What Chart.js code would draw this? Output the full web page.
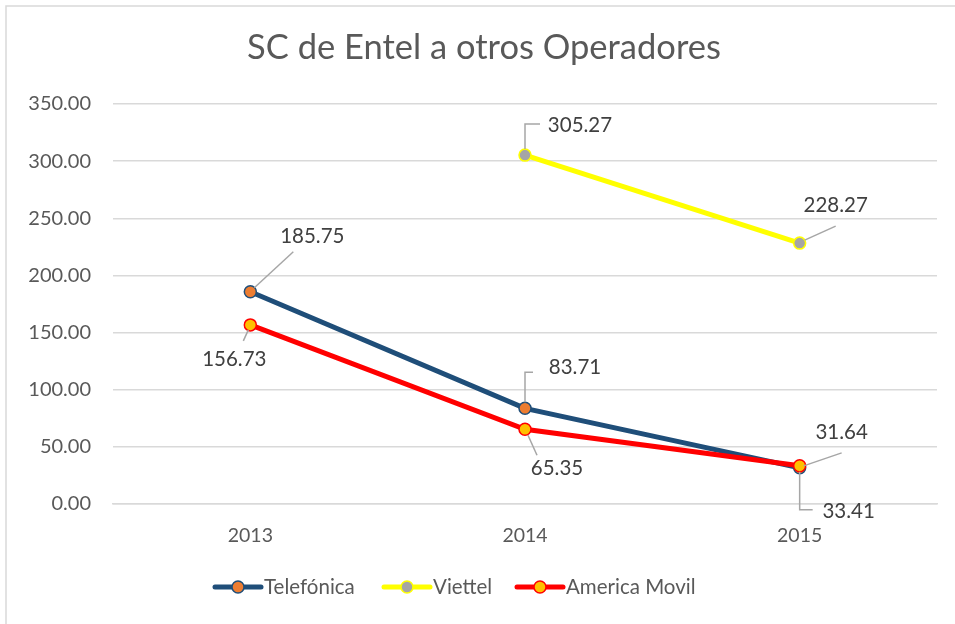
<!DOCTYPE html>
<html>
<head>
<meta charset="utf-8">
<style>
html,body{margin:0;padding:0;background:#fff;}
#wrap{position:relative;width:955px;height:624px;}
</style>
<script src="https://cdn.jsdelivr.net/npm/chart.js@4.4.1/dist/chart.umd.min.js"></script>
</head>
<body>
<div id="wrap"><canvas id="c" width="955" height="624"></canvas></div>
<script>
const categories = ['2013', '2014', '2015'];
const telefonica = [185.75, 83.71, 31.64];
const viettel = [null, 305.27, 228.27];
const americaMovil = [156.73, 65.35, 33.41];
const seriesNames = ['Telefónica', 'Viettel', 'America Movil'];
const chartTitle = 'SC de Entel a otros Operadores';

const FONT = 'Lato, "Open Sans", sans-serif';

// label placement (offsets relative to each point, in px)
const labelLayout = {
  0: [ {t:[62,-55], l:[[4,-4],[43,-40]]}, {t:[50,-41], l:[[0,-6],[0,-36],[8,-36]]}, {t:[42,-35], l:[[4,-2],[42,-15]]} ],
  1: [ null, {t:[55,-30], l:[[0,-6],[0,-31],[15,-31]]}, {t:[36,-38], l:[[5,-3],[36,-17]]} ],
  2: [ {t:[-16,35], l:[[-2,5],[-7,16]]}, {t:[32,39], l:[[3,6],[12,26]]}, {t:[49,46], l:[[0,6],[0,44],[13,44]]} ]
};

const frameAndExtras = {
  id: 'frameAndExtras',
  beforeDraw(chart) {
    const ctx = chart.ctx;
    ctx.save();
    ctx.fillStyle = '#fff';
    ctx.fillRect(0, 0, chart.width, chart.height);
    ctx.strokeStyle = '#d9d9d9';
    ctx.lineWidth = 1.5;
    ctx.beginPath();
    ctx.moveTo(6, chart.height + 2);
    ctx.lineTo(6, 6);
    ctx.lineTo(chart.width + 2, 6);
    ctx.stroke();
    // title
    ctx.fillStyle = '#595959';
    ctx.font = '34.5px ' + FONT;
    ctx.textAlign = 'center';
    ctx.textBaseline = 'middle';
    ctx.fillText(chartTitle, 484, 48);
    ctx.restore();
  },
  afterDatasetsDraw(chart) {
    const ctx = chart.ctx;
    ctx.save();
    chart.data.datasets.forEach((ds, di) => {
      const meta = chart.getDatasetMeta(di);
      meta.data.forEach((pt, i) => {
        const v = ds.data[i];
        const lay = labelLayout[di] && labelLayout[di][i];
        if (v === null || !lay) return;
        const x = pt.x, y = pt.y;
        ctx.strokeStyle = '#a6a6a6';
        ctx.lineWidth = 1.5;
        ctx.beginPath();
        lay.l.forEach((p, k) => {
          if (k === 0) ctx.moveTo(x + p[0], y + p[1]);
          else ctx.lineTo(x + p[0], y + p[1]);
        });
        ctx.stroke();
        ctx.fillStyle = '#404040';
        ctx.font = '20.5px ' + FONT;
        ctx.textAlign = 'center';
        ctx.textBaseline = 'middle';
        ctx.fillText(v.toFixed(2), x + lay.t[0], y + lay.t[1]);
      });
    });
    // legend
    const items = [
      {x: 215, text: seriesNames[0], ds: 0},
      {x: 384, text: seriesNames[1], ds: 1},
      {x: 517, text: seriesNames[2], ds: 2}
    ];
    const ly = 587;
    items.forEach(it => {
      const ds = chart.data.datasets[it.ds];
      ctx.strokeStyle = ds.borderColor;
      ctx.lineWidth = 5;
      ctx.lineCap = 'round';
      ctx.beginPath();
      ctx.moveTo(it.x, ly);
      ctx.lineTo(it.x + 46, ly);
      ctx.stroke();
      ctx.beginPath();
      ctx.arc(it.x + 23, ly, 6, 0, Math.PI * 2);
      ctx.fillStyle = ds.pointBackgroundColor;
      ctx.fill();
      ctx.lineWidth = 1.5;
      ctx.strokeStyle = ds.pointBorderColor;
      ctx.stroke();
      ctx.fillStyle = '#595959';
      ctx.font = '20.5px ' + FONT;
      ctx.textAlign = 'left';
      ctx.textBaseline = 'middle';
      ctx.fillText(it.text, it.x + 49, ly);
    });
    ctx.restore();
  }
};

new Chart(document.getElementById('c'), {
  type: 'line',
  data: {
    labels: categories,
    datasets: [
      { label: seriesNames[0], data: telefonica, borderColor: '#1f4e79', borderWidth: 5,
        pointBackgroundColor: '#ed7d31', pointBorderColor: '#1f4e79', pointBorderWidth: 1.5,
        pointRadius: 6, pointHoverRadius: 6, order: 3 },
      { label: seriesNames[1], data: viettel, borderColor: '#ffff00', borderWidth: 5,
        pointBackgroundColor: '#a5a5a5', pointBorderColor: '#ffff00', pointBorderWidth: 1.5,
        pointRadius: 6, pointHoverRadius: 6, order: 2 },
      { label: seriesNames[2], data: americaMovil, borderColor: '#ff0000', borderWidth: 5,
        pointBackgroundColor: '#ffc000', pointBorderColor: '#ff0000', pointBorderWidth: 1.5,
        pointRadius: 6, pointHoverRadius: 6, order: 1 }
    ]
  },
  options: {
    responsive: false,
    animation: false,
    events: [],
    layout: { padding: { top: 104, right: 18, bottom: 80, left: 0 } },
    plugins: { legend: { display: false }, title: { display: false }, tooltip: { enabled: false } },
    scales: {
      x: {
        offset: true,
        grid: { display: false, drawTicks: false },
        border: { display: true, color: '#d9d9d9', width: 1.5 },
        ticks: { color: '#595959', font: { family: FONT, size: 19.5 }, padding: 20 },
        afterFit(s) { s.height = 40; }
      },
      y: {
        min: 0, max: 350,
        ticks: { stepSize: 50, color: '#595959', font: { family: FONT, size: 20 }, padding: 22,
          callback: v => Number(v).toFixed(2) },
        grid: { color: '#d9d9d9', lineWidth: 1.5, drawTicks: false },
        border: { display: false },
        afterFit(s) { s.width = 113; }
      }
    }
  },
  plugins: [frameAndExtras]
});
</script>
</body>
</html>
